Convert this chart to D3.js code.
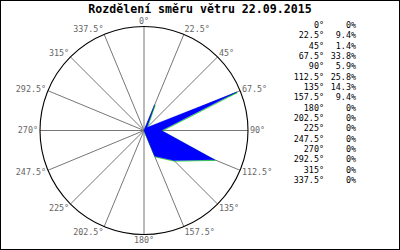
<!DOCTYPE html>
<html>
<head>
<meta charset="utf-8">
<script src="https://cdnjs.cloudflare.com/ajax/libs/d3/7.8.5/d3.min.js"></script>
<style>
  body { margin: 0; background: #fff; }
  svg { display: block; }
  text { font-family: "DejaVu Sans Mono", monospace; }
</style>
</head>
<body>
<div id="chart"></div>
<script>
let title = "Rozdělení směru větru 22.09.2015";
let smery = [0, 22.5, 45, 67.5, 90, 112.5, 135, 157.5, 180, 202.5, 225, 247.5, 270, 292.5, 315, 337.5];
let procenta = [0, 9.4, 1.4, 33.8, 5.9, 25.8, 14.3, 9.4, 0, 0, 0, 0, 0, 0, 0, 0];

let width = 400, height = 250;
let cx = 144, cy = 130.5, radius = 104;

let svg = d3.select("#chart")
    .append("svg")
    .attr("width", width)
    .attr("height", height);

svg.append("rect")
    .attr("x", 0.5).attr("y", 0.5)
    .attr("width", width - 1).attr("height", height - 1)
    .attr("fill", "#fff")
    .attr("stroke", "#000");

svg.append("text")
    .attr("x", 200)
    .attr("y", 13)
    .attr("text-anchor", "middle")
    .style("font-size", "11.6px")
    .style("font-weight", "bold")
    .text(title);

let r = d3.scaleLinear().domain([0, 35]).range([0, radius]);
let uhel = d3.scaleLinear().domain([0, 360]).range([0, 2 * Math.PI]);

let g = svg.append("g")
    .attr("transform", "translate(" + cx + "," + cy + ")");

// paprsky
g.append("g")
    .selectAll("line")
    .data(smery)
    .enter()
    .append("line")
    .attr("x1", 0).attr("y1", 0)
    .attr("x2", d => radius * Math.sin(uhel(d)))
    .attr("y2", d => -radius * Math.cos(uhel(d)))
    .attr("stroke", "#777")
    .attr("stroke-width", 1);

g.append("circle")
    .attr("r", radius)
    .attr("fill", "none")
    .attr("stroke", "#000")
    .attr("stroke-width", 1.1);

let radial = d3.lineRadial()
    .angle((d, i) => uhel(smery[i]))
    .radius(d => r(d))
    .curve(d3.curveLinearClosed);

// zeleny okraj pod vyplni
g.append("path")
    .attr("d", radial(procenta))
    .attr("transform", "translate(0.4,0.6)")
    .attr("fill", "none")
    .attr("stroke", "#00e000")
    .attr("stroke-width", 0.8);

g.append("path")
    .attr("d", radial(procenta))
    .attr("fill", "#0000ff")
    .attr("stroke", "#0000ff")
    .attr("stroke-width", 0.4);

function popis(d) { return d + "°"; }

g.append("g")
    .selectAll("text")
    .data(smery)
    .enter()
    .append("text")
    .attr("x", d => radius * Math.sin(uhel(d)) + 2 * Math.sin(uhel(d)))
    .attr("y", d => -radius * Math.cos(uhel(d)) - 5.5 * Math.cos(uhel(d)))
    .attr("dy", "0.35em")
    .attr("text-anchor", d => {
        let s = Math.sin(uhel(d));
        if (Math.abs(s) < 0.01) return "middle";
        return s > 0 ? "start" : "end";
    })
    .style("font-size", "8.4px")
    .style("fill", "#666")
    .text(popis);

// legenda
let leg = svg.append("g");
leg.selectAll("text.sm")
    .data(smery)
    .enter()
    .append("text")
    .attr("class", "sm")
    .attr("x", 324)
    .attr("y", (d, i) => 25 + i * 10.35)
    .attr("dy", "0.35em")
    .attr("text-anchor", "end")
    .style("font-size", "8.4px")
    .text(popis);

leg.selectAll("text.pr")
    .data(procenta)
    .enter()
    .append("text")
    .attr("class", "pr")
    .attr("x", 356)
    .attr("y", (d, i) => 25 + i * 10.35)
    .attr("dy", "0.35em")
    .attr("text-anchor", "end")
    .style("font-size", "8.4px")
    .text(d => (d === 0 ? "0" : d.toFixed(1)) + "%");
</script>
</body>
</html>
